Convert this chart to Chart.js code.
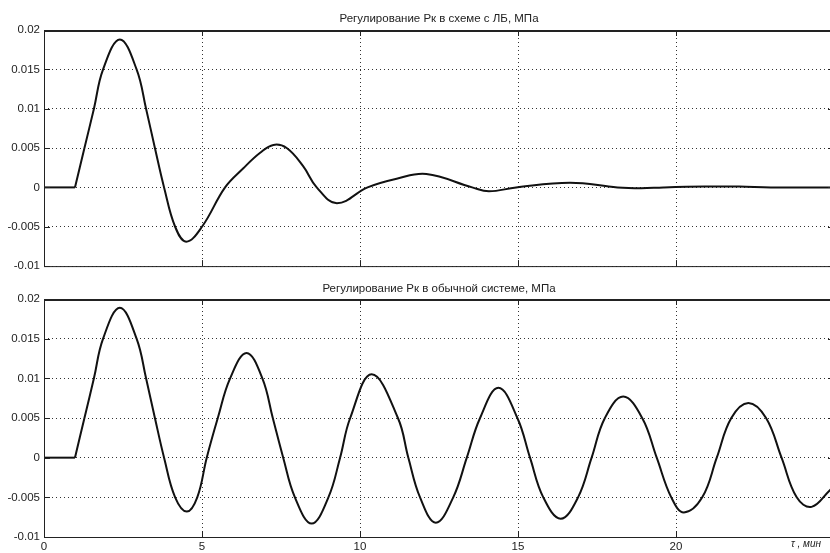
<!DOCTYPE html>
<html>
<head>
<meta charset="utf-8">
<script src="https://cdn.jsdelivr.net/npm/chart.js@4"></script>
<style>
  body { margin: 0; width: 830px; height: 553px; overflow: hidden; background: #fff; position: relative; }
  .box { position: absolute; left: 0; width: 840px; }
  #top-box { top: 0; height: 277px; }
  #bot-box { top: 277px; height: 276px; }
</style>
</head>
<body>
<div class="box" id="top-box"><canvas id="top-chart" width="840" height="277"></canvas></div>
<div class="box" id="bot-box"><canvas id="bot-chart" width="840" height="276"></canvas></div>
<script>
// axes
var xTicks = [0, 5, 10, 15, 20, 25];
var xTickLabels = ['0', '5', '10', '15', '20', ''];
var yTicks = [-0.01, -0.005, 0, 0.005, 0.01, 0.015, 0.02];
var yTickLabels = ['-0.01', '-0.005', '0', '0.005', '0.01', '0.015', '0.02'];

// top: scheme with LB
var topTitle = 'Регулирование Рк в схеме с ЛБ, МПа';
var topT = [0, 0.98, 1.28, 1.58, 1.87, 2.4, 2.93, 3.23, 3.51, 3.8, 4.15, 4.5, 5.0, 5.73, 6.3, 6.84, 7.26, 7.68, 8.2, 8.63,
            9.27, 10.24, 11.16, 12.1, 13.55, 14.08, 14.94, 16.65, 18.15, 18.9, 19.6, 20.9, 22.0, 23.0, 25];
var topP = [0, 0, 0.005, 0.01, 0.015, 0.0188, 0.015, 0.01, 0.005, 0, -0.005, -0.0069, -0.005, 0, 0.0024, 0.0044, 0.0054, 0.005, 0.0027, 0,
            -0.002, 0, 0.0011, 0.0017, 0, -0.0005, 0, 0.0006, 0, -0.0001, 0, 0.0001, 0.0001, 0, 0];

// bottom: ordinary system
var botTitle = 'Регулирование Рк в обычной системе, МПа';
var botT = [0, 0.98, 1.28, 1.58, 1.87, 2.4, 2.93, 3.23, 3.51, 3.8, 4.15, 4.52, 4.85, 5.15, 5.5, 5.89, 6.41, 6.91, 7.24, 7.57,
            7.94, 8.47, 9.0, 9.37, 9.69, 10.37, 11.2, 11.53, 11.9, 12.4, 12.95, 13.38, 13.8, 14.38, 14.98, 15.38, 15.8,
            16.35, 16.9, 17.33, 17.75, 18.33, 18.93, 19.39, 19.85, 20.25, 20.83, 21.29, 21.75, 22.29, 22.85, 23.34,
            23.82, 24.29, 24.87, 25];
var botP = [0, 0, 0.005, 0.01, 0.015, 0.0189, 0.015, 0.01, 0.005, 0, -0.005, -0.0068, -0.005, 0, 0.005, 0.01, 0.0132, 0.01, 0.005, 0,
            -0.005, -0.0083, -0.005, 0, 0.005, 0.0105, 0.005, 0, -0.005, -0.0082, -0.005, 0, 0.005, 0.0088, 0.005, 0, -0.005,
            -0.0077, -0.005, 0, 0.005, 0.0077, 0.005, 0, -0.005, -0.0069, -0.005, 0, 0.005, 0.0069, 0.005, 0,
            -0.005, -0.0062, -0.0041, -0.0036];

var FONT = '"Liberation Sans", Arial, sans-serif';
Chart.defaults.font.family = FONT;
Chart.defaults.color = '#222';

// box, inner ticks and title, matlab style
var frame = {
    id: 'frame',
    afterDraw(chart, args, opts) {
        const {ctx, chartArea: a} = chart;
        const x = chart.scales.x, y = chart.scales.y;
        ctx.save();
        ctx.strokeStyle = '#222';
        ctx.lineWidth = 1;
        ctx.strokeRect(a.left + 0.5, a.top + 0.5, a.right - a.left, a.bottom - a.top);
        ctx.beginPath();
        xTicks.forEach(v => {
            const px = Math.round(x.getPixelForValue(v)) + 0.5;
            ctx.moveTo(px, a.bottom); ctx.lineTo(px, a.bottom - 6);
            ctx.moveTo(px, a.top); ctx.lineTo(px, a.top + 6);
        });
        yTicks.forEach(v => {
            const py = Math.round(y.getPixelForValue(v)) + 0.5;
            ctx.moveTo(a.left, py); ctx.lineTo(a.left + 6, py);
            ctx.moveTo(a.right, py); ctx.lineTo(a.right - 6, py);
        });
        ctx.stroke();
        // heavier top edge
        ctx.lineWidth = 2;
        ctx.beginPath();
        ctx.moveTo(a.left, a.top + 1); ctx.lineTo(a.right, a.top + 1);
        ctx.stroke();
        ctx.fillStyle = '#222';
        ctx.font = '11.5px ' + FONT;
        ctx.textAlign = 'center';
        ctx.textBaseline = 'middle';
        ctx.fillText(opts.text, (a.left + a.right) / 2, a.top - opts.gap);
        if (opts.xlabel) {
            ctx.font = 'italic 10px ' + FONT;
            ctx.fillText(opts.xlabel, 806, a.bottom + 7);
        }
        ctx.restore();
    }
};

function drawChart(id, tArr, pArr, title, gap, padTop, xHeight, showX) {
    const pts = tArr.map((t, i) => ({x: t, y: pArr[i]}));
    const line = {
        borderColor: '#111',
        borderWidth: 2,
        pointRadius: 0,
        fill: false
    };
    return new Chart(document.getElementById(id), {
        type: 'line',
        data: {
            datasets: [
                Object.assign({data: pts.slice(0, 2), tension: 0}, line),
                Object.assign({data: pts.slice(1), tension: 0.4}, line)
            ]
        },
        options: {
            responsive: false,
            animation: false,
            layout: {padding: {left: 0, right: 6, top: padTop, bottom: 0}},
            plugins: {
                legend: {display: false},
                tooltip: {enabled: false},
                frame: {text: title, gap: gap, xlabel: showX ? 'τ , мин' : ''}
            },
            scales: {
                x: {
                    type: 'linear',
                    min: 0,
                    max: 25,
                    afterBuildTicks: s => { s.ticks = xTicks.map(v => ({value: v})); },
                    afterFit: s => { s.height = xHeight; },
                    ticks: {
                        display: showX,
                        padding: 3,
                        maxRotation: 0,
                        font: {size: 11.5},
                        callback: (v, i) => xTickLabels[i]
                    },
                    grid: {color: '#333', lineWidth: 1, drawTicks: false},
                    border: {display: false, dash: [1, 3]}
                },
                y: {
                    min: -0.01,
                    max: 0.02,
                    afterBuildTicks: s => { s.ticks = yTicks.map(v => ({value: v})); },
                    afterFit: s => { s.width = 44; },
                    ticks: {
                        padding: 4,
                        font: {size: 11.5},
                        callback: (v, i) => yTickLabels[i]
                    },
                    grid: {color: '#333', lineWidth: 1, drawTicks: false},
                    border: {display: false, dash: [1, 3]}
                }
            }
        },
        plugins: [frame]
    });
}

drawChart('top-chart', topT, topP, topTitle, 11, 30, 10, false);
drawChart('bot-chart', botT, botP, botTitle, 10, 22, 16, true);
</script>
</body>
</html>
